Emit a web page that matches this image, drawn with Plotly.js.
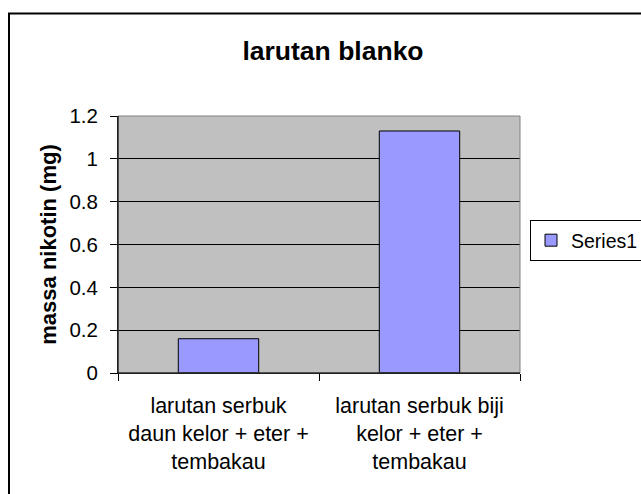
<!DOCTYPE html>
<html>
<head>
<meta charset="utf-8">
<script src="https://cdn.plot.ly/plotly-3.0.1.min.js"></script>
<style>
  html, body { margin: 0; padding: 0; background: #ffffff; }
  #chart { width: 641px; height: 494px; }
</style>
</head>
<body>
<div id="chart"></div>
<script>
// ---- data ----
const categories = [
  "larutan serbuk<br>daun kelor + eter +<br>tembakau",
  "larutan serbuk biji<br>kelor + eter +<br>tembakau"
];
const series1Values = [0.16, 1.13];
const seriesName = "Series1";
const chartTitle = "larutan blanko";
const yAxisTitle = "massa nikotin (mg)";
const yTickValues = [0, 0.2, 0.4, 0.6, 0.8, 1, 1.2];
const yTickLabels = ["0", "0.2", "0.4", "0.6", "0.8", "1", "1.2"];

const FONT = "Liberation Sans, Arial, Helvetica, sans-serif";

// plot area in pixels: x 118..520, y 116..373
const L = 118, R = 641 - 520, T = 116, B = 494 - 373;
const PW = 641 - L - R, PH = 494 - T - B;
const px = v => (v - L) / PW;
const py = v => (494 - B - v) / PH;

const trace = {
  type: "bar",
  x: categories,
  y: series1Values,
  name: seriesName,
  marker: { color: "#9999FF", line: { color: "#000000", width: 1 } },
  showlegend: true,
  hoverinfo: "skip"
};

const layout = {
  width: 641,
  height: 494,
  margin: { l: L, r: R, t: T, b: B, pad: 0, autoexpand: false },
  paper_bgcolor: "#ffffff",
  plot_bgcolor: "#C0C0C0",
  font: { family: FONT, color: "#000000" },
  bargap: 0.6,
  title: {
    text: "<b>" + chartTitle + "</b>",
    font: { family: FONT, size: 26.5, color: "#000000" },
    x: 333 / 641, xref: "container", xanchor: "center",
    y: 1 - 51 / 494, yref: "container", yanchor: "middle"
  },
  xaxis: {
    type: "category",
    automargin: false,
    tickson: "boundaries",
    ticks: "outside",
    ticklen: 7,
    tickcolor: "#000000",
    tickwidth: 1,
    showline: true,
    linecolor: "#000000",
    linewidth: 1,
    showgrid: false,
    zeroline: false,
    ticklabelstandoff: 13,
    tickfont: { family: FONT, size: 21.5, color: "#000000" },
    fixedrange: true
  },
  yaxis: {
    automargin: false,
    range: [0, 1.2],
    tickvals: yTickValues,
    ticktext: yTickLabels,
    ticks: "outside",
    ticklen: 7,
    tickcolor: "#000000",
    tickwidth: 1,
    showline: true,
    linecolor: "#000000",
    linewidth: 1,
    showgrid: true,
    gridcolor: "#000000",
    gridwidth: 1,
    zeroline: false,
    ticklabelstandoff: 8,
    tickfont: { family: FONT, size: 20.5, color: "#000000" },
    title: {
      text: "<b>" + yAxisTitle + "</b>",
      font: { family: FONT, size: 22, color: "#000000" },
      standoff: 6
    },
    fixedrange: true
  },
  legend: {
    x: px(530), xanchor: "left",
    y: py(220), yanchor: "top",
    bgcolor: "#ffffff",
    bordercolor: "#000000",
    borderwidth: 1,
    font: { family: FONT, size: 19.5, color: "#000000" },
    itemwidth: 30,
    tracegroupgap: 0
  },
  shapes: [
    // plot area border (gray)
    { type: "rect", xref: "paper", yref: "paper", x0: 0, x1: 1, y0: 0, y1: 1,
      line: { color: "#808080", width: 1 }, fillcolor: "rgba(0,0,0,0)", layer: "above" },
    // black axis lines on left and bottom
    { type: "line", xref: "paper", yref: "paper", x0: 0, x1: 0, y0: 0, y1: 1,
      line: { color: "#000000", width: 1 }, layer: "above" },
    { type: "line", xref: "paper", yref: "paper", x0: 0, x1: 1, y0: 0, y1: 0,
      line: { color: "#000000", width: 1 }, layer: "above" },
    // chart outer border
    { type: "rect", xref: "paper", yref: "paper",
      x0: px(9), x1: px(660), y0: py(510), y1: py(13.5),
      line: { color: "#000000", width: 2 }, fillcolor: "rgba(0,0,0,0)", layer: "below" }
  ]
};

Plotly.newPlot("chart", [trace], layout, { displayModeBar: false, staticPlot: true });
</script>
</body>
</html>
